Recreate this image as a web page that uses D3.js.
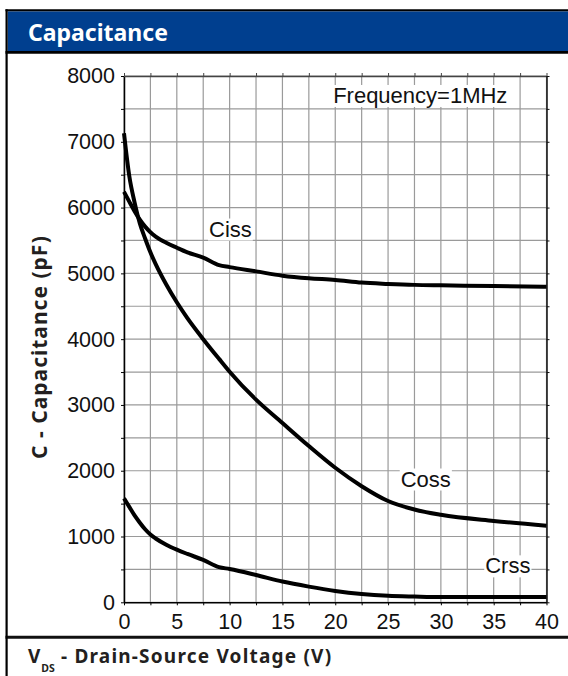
<!DOCTYPE html>
<html>
<head>
<meta charset="utf-8">
<script src="https://cdn.jsdelivr.net/npm/d3@7"></script>
<style>
  body { margin: 0; background: #fff; }
  svg { display: block; }
</style>
</head>
<body>
<div id="chart"></div>
<script>
// values
const vds  = [0, 0.5, 1, 1.5, 2, 2.5, 3, 4, 5, 6, 7.5, 9, 10, 12.5, 15, 17.5, 20, 22.5, 25, 27.5, 30, 35, 40];
const ciss = [6240, 6090, 5945, 5815, 5710, 5625, 5560, 5465, 5390, 5320, 5240, 5125, 5095, 5030, 4965, 4925, 4900, 4860, 4840, 4825, 4818, 4808, 4797];
const coss = [7130, 6480, 6080, 5760, 5530, 5320, 5140, 4830, 4560, 4320, 4000, 3700, 3505, 3080, 2725, 2375, 2045, 1765, 1540, 1410, 1330, 1237, 1165];
const crss = [1580, 1450, 1320, 1210, 1110, 1030, 970, 875, 800, 735, 645, 535, 506, 415, 315, 238, 173, 127, 100, 88, 80, 80, 80];

const xTicks = [0, 5, 10, 15, 20, 25, 30, 35, 40];
const yTicks = [0, 1000, 2000, 3000, 4000, 5000, 6000, 7000, 8000];
const xGrid = d3.range(0, 40.01, 2.5);
const yGrid = d3.range(0, 8000.1, 500);

// curve labels, anchored in data units
const labels = [
    { text: 'Ciss', v: 8.05, c: 5560 },
    { text: 'Coss', v: 26.2, c: 1760 },
    { text: 'Crss', v: 34.2, c: 440 },
    { text: 'Frequency=1MHz', v: 19.8, c: 7590 }
];

class CapChart {

    constructor(opts) {
        this.element = opts.element;
        this.series = opts.series;
        this.draw();
    }

    draw() {
        this.width = 568;
        this.height = 676;
        // plot box inside the panel
        this.box = { left: 124, right: 546.5, top: 76, bottom: 602.3 };

        this.element.innerHTML = '';
        this.svg = d3.select(this.element).append('svg')
            .attr('width', this.width)
            .attr('height', this.height);

        this.svg.append('rect')
            .attr('width', this.width)
            .attr('height', this.height)
            .attr('fill', '#fff');

        this.addPanel();
        this.createScales();
        this.addGrid();
        this.addAxes();
        this.addLines();
        this.addLabels();
    }

    addPanel() {
        const svg = this.svg;
        const bold = "'Noto Sans', 'Open Sans', sans-serif";

        // blue header bar
        svg.append('rect')
            .attr('x', 7.7).attr('y', 11.3)
            .attr('width', this.width - 7.7).attr('height', 40)
            .attr('fill', '#003f8f');

        svg.append('line')
            .attr('x1', 5.5).attr('x2', this.width)
            .attr('y1', 10.3).attr('y2', 10.3)
            .attr('stroke', '#000').attr('stroke-width', 2);
        svg.append('line')
            .attr('x1', 5.5).attr('x2', this.width)
            .attr('y1', 52.4).attr('y2', 52.4)
            .attr('stroke', '#000').attr('stroke-width', 2.6);
        svg.append('line')
            .attr('x1', 5.5).attr('x2', this.width)
            .attr('y1', 637.3).attr('y2', 637.3)
            .attr('stroke', '#111').attr('stroke-width', 3);
        svg.append('line')
            .attr('x1', 6.6).attr('x2', 6.6)
            .attr('y1', 9.3).attr('y2', this.height)
            .attr('stroke', '#000').attr('stroke-width', 2.2);

        svg.append('text')
            .attr('x', 28).attr('y', 41)
            .attr('fill', '#fff')
            .style('font-family', bold)
            .style('font-weight', 700)
            .style('font-size', '23px')
            .text('Capacitance');

        // y axis title, rotated
        svg.append('text')
            .attr('transform', 'translate(47,347) rotate(-90)')
            .attr('text-anchor', 'middle')
            .attr('fill', '#231f20')
            .style('font-family', bold)
            .style('font-weight', 700)
            .style('font-size', '21px')
            .style('letter-spacing', '1px')
            .text('C - Capacitance (pF)');

        // x axis title with the DS subscript
        const xt = svg.append('text')
            .attr('x', 28).attr('y', 663)
            .attr('fill', '#231f20')
            .style('font-family', bold)
            .style('font-weight', 700)
            .style('font-size', '19px');
        xt.append('tspan').text('V');
        xt.append('tspan').attr('dx', 1).attr('dy', 9).style('font-size', '10.5px').text('DS');
        xt.append('tspan').attr('dy', -9).style('letter-spacing', '1.2px').text(' - Drain-Source Voltage (V)');
    }

    createScales() {
        const b = this.box;
        this.xScale = d3.scaleLinear()
            .domain([0, 40])
            .range([b.left, b.right]);
        this.yScale = d3.scaleLinear()
            .domain([0, 8000])
            .range([b.bottom, b.top]);
    }

    addGrid() {
        const b = this.box;
        const g = this.svg.append('g').attr('class', 'grid');

        g.selectAll('.gx').data(xGrid).enter().append('line')
            .attr('x1', d => this.xScale(d)).attr('x2', d => this.xScale(d))
            .attr('y1', b.top).attr('y2', b.bottom)
            .attr('stroke', '#9a9a9a').attr('stroke-width', 1.2);

        g.selectAll('.gy').data(yGrid).enter().append('line')
            .attr('x1', b.left).attr('x2', b.right)
            .attr('y1', d => this.yScale(d)).attr('y2', d => this.yScale(d))
            .attr('stroke', '#9a9a9a').attr('stroke-width', 1.2);
    }

    addAxes() {
        const b = this.box;
        const num = "'Liberation Sans', Arial, sans-serif";

        const xAxis = d3.axisBottom(this.xScale)
            .tickValues(xGrid)
            .tickSize(3)
            .tickPadding(8)
            .tickFormat(d => xTicks.includes(d) ? d : '');
        const yAxis = d3.axisLeft(this.yScale)
            .tickValues(yGrid)
            .tickSize(3)
            .tickPadding(6)
            .tickFormat(d => yTicks.includes(d) ? d : '');
        const topAxis = d3.axisTop(this.xScale)
            .tickValues(xGrid).tickSize(3).tickFormat('');
        const rightAxis = d3.axisRight(this.yScale)
            .tickValues(yGrid).tickSize(3).tickFormat('');

        const place = [
            [xAxis, `translate(0,${b.bottom})`, '#000'],
            [yAxis, `translate(${b.left},0)`, '#000'],
            [topAxis, `translate(0,${b.top})`, '#444'],
            [rightAxis, `translate(${b.right},0)`, '#111']
        ];
        place.forEach(([ax, tr, col]) => {
            const g = this.svg.append('g')
                .attr('transform', tr)
                .call(ax.tickSizeOuter(0));
            g.select('.domain').attr('stroke', col).attr('stroke-width', 1.5);
            g.selectAll('.tick line').attr('stroke', col).attr('stroke-width', 1);
            g.selectAll('.tick text')
                .attr('fill', '#111')
                .style('font-family', num)
                .style('font-size', '21.5px');
        });
    }

    addLines() {
        const line = d3.line()
            .x(d => this.xScale(d[0]))
            .y(d => this.yScale(d[1]))
            .curve(d3.curveMonotoneX);

        this.series.forEach(s => {
            this.svg.append('path')
                .datum(vds.map((v, i) => [v, s[i]]))
                .attr('d', line)
                .attr('fill', 'none')
                .attr('stroke', '#000')
                .attr('stroke-width', 4)
                .attr('stroke-linejoin', 'round');
        });
    }

    addLabels() {
        const num = "'Liberation Sans', Arial, sans-serif";
        labels.forEach(l => {
            const g = this.svg.append('g');
            const t = g.append('text')
                .attr('x', this.xScale(l.v))
                .attr('y', this.yScale(l.c))
                .attr('fill', '#111')
                .style('font-family', num)
                .style('font-size', '22px')
                .text(l.text);
            // white box behind the label so the grid breaks around it
            const bb = t.node().getBBox();
            g.insert('rect', 'text')
                .attr('x', bb.x - 1).attr('y', bb.y + 2)
                .attr('width', bb.width + 2).attr('height', bb.height - 3)
                .attr('fill', '#fff');
        });
    }
}

new CapChart({
    element: document.getElementById('chart'),
    series: [ciss, coss, crss]
});
</script>
</body>
</html>
